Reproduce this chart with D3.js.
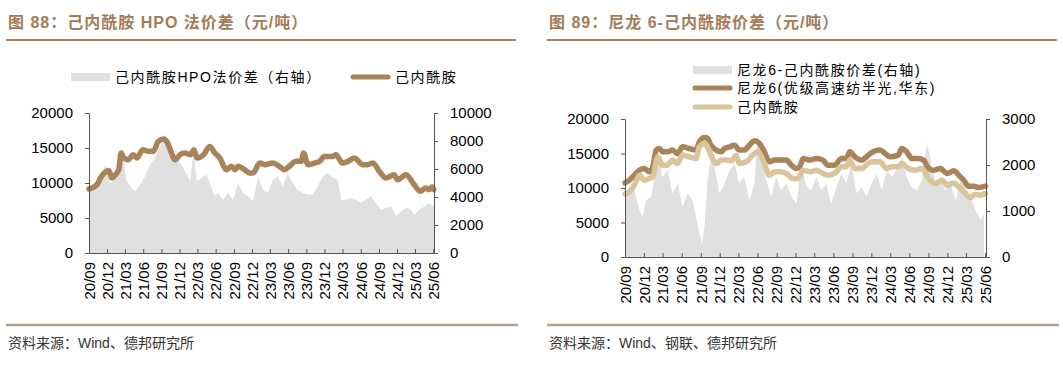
<!DOCTYPE html>
<html>
<head>
<meta charset="utf-8">
<script src="https://cdn.jsdelivr.net/npm/d3@7"></script>
<style>
  body { margin: 0; background: #fff; }
  svg { display: block; }
  text { font-family: "Liberation Sans", Arial, "Noto Sans CJK SC", sans-serif; }
</style>
</head>
<body>
<svg id="chart" width="1063" height="366"></svg>
<script>
// x tick labels (quarters)
var quarterTicks = ["2020-09-01","2020-12-01","2021-03-01","2021-06-01","2021-09-01","2021-12-01","2022-03-01","2022-06-01","2022-09-01","2022-12-01","2023-03-01","2023-06-01","2023-09-01","2023-12-01","2024-03-01","2024-06-01","2024-09-01","2024-12-01","2025-03-01","2025-06-01"]

var leftTicks = [0, 5000, 10000, 15000, 20000]
var rightTicks88 = [0, 2000, 4000, 6000, 8000, 10000]
var rightTicks89 = [0, 1000, 2000, 3000]

// fig 88: caprolactam price (left) and HPO spread (right)
var capro88 = [
  ["2020-09-01",9140],["2020-10-12",9760],["2020-10-28",10700],["2020-11-28",11660],["2020-12-10",11800],
  ["2020-12-26",10700],["2021-01-12",11190],["2021-01-29",11900],["2021-02-10",14280],["2021-02-23",13570],
  ["2021-03-18",13330],["2021-04-12",14040],["2021-04-30",13570],["2021-05-30",14760],["2021-06-27",14520],
  ["2021-07-22",14520],["2021-08-16",15950],["2021-09-12",16280],["2021-09-28",15950],["2021-10-15",14760],
  ["2021-11-09",13330],["2021-12-03",14040],["2021-12-28",14280],["2022-01-24",14040],["2022-02-12",14760],
  ["2022-02-27",13570],["2022-04-01",14040],["2022-05-02",15230],["2022-05-28",14280],["2022-06-22",13570],
  ["2022-07-25",11900],["2022-08-19",12380],["2022-09-06",11900],["2022-09-22",12380],["2022-10-25",11900],
  ["2022-11-19",11420],["2022-12-06",11420],["2023-01-09",12850],["2023-02-04",12620],["2023-03-16",12850],
  ["2023-04-18",12380],["2023-05-13",11900],["2023-06-07",12380],["2023-07-10",13090],["2023-08-06",13090],
  ["2023-08-18",14280],["2023-09-09",12620],["2023-10-12",12850],["2023-11-06",13090],["2023-12-01",13800],
  ["2024-01-12",13800],["2024-01-28",14040],["2024-03-01",12850],["2024-03-28",13090],["2024-05-01",13570],
  ["2024-06-10",12620],["2024-07-06",12620],["2024-08-01",12850],["2024-09-03",11660],["2024-10-06",10700],
  ["2024-11-16",11190],["2024-12-03",10470],["2025-01-15",11190],["2025-02-25",9760],["2025-03-28",8810],
  ["2025-04-24",9280],["2025-05-10",9040],["2025-05-27",9420],["2025-06-04",9040]
]

var hpoSpread = [
  ["2020-09-01",4520],["2020-09-26",5000],["2020-10-29",5590],["2020-11-23",6300],["2020-12-18",5000],
  ["2021-01-12",5240],["2021-02-07",6550],["2021-02-20",6780],["2021-03-10",5120],["2021-04-04",4640],
  ["2021-04-21",4400],["2021-05-16",4880],["2021-06-10",5470],["2021-07-05",6300],["2021-07-31",6780],
  ["2021-08-25",7620],["2021-09-11",8090],["2021-09-28",7850],["2021-10-23",7500],["2021-11-17",6780],
  ["2021-12-12",6300],["2021-12-29",5830],["2022-01-24",5120],["2022-02-10",7380],["2022-02-26",5120],
  ["2022-03-21",5360],["2022-04-16",5590],["2022-05-02",5000],["2022-05-27",4050],["2022-06-13",4280],
  ["2022-07-08",3810],["2022-08-03",4280],["2022-08-28",3810],["2022-09-22",5000],["2022-10-17",4280],
  ["2022-11-11",4050],["2022-12-07",3690],["2023-01-01",5470],["2023-01-26",4520],["2023-02-20",4280],
  ["2023-03-16",5240],["2023-04-10",5470],["2023-05-05",4760],["2023-05-30",5710],["2023-06-24",5000],
  ["2023-07-19",4520],["2023-08-14",4280],["2023-09-08",4170],["2023-10-03",4170],["2023-10-28",4760],
  ["2023-11-23",5470],["2023-12-18",5710],["2024-01-12",5360],["2024-02-07",5240],["2024-02-23",3810],
  ["2024-03-18",3810],["2024-04-13",3930],["2024-05-08",3810],["2024-06-02",3570],["2024-06-27",3810],
  ["2024-07-22",4050],["2024-08-17",3570],["2024-09-11",3090],["2024-10-06",3210],["2024-11-01",3330],
  ["2024-11-26",2620],["2024-12-21",2980],["2025-01-15",3210],["2025-02-09",3090],["2025-02-26",2740],
  ["2025-03-23",3090],["2025-04-16",3330],["2025-05-11",3570],["2025-06-05",3330]
]

// fig 89: nylon 6 price, caprolactam price (left) and spread (right)
var nylon6 = [
  ["2020-09-01",10740],["2020-09-22",11130],["2020-10-16",11860],["2020-11-09",12580],["2020-12-03",12830],
  ["2020-12-27",12340],["2021-01-13",13070],["2021-01-29",15490],["2021-02-14",15730],["2021-03-01",15250],
  ["2021-03-24",15250],["2021-04-18",15490],["2021-05-12",15000],["2021-06-05",15970],["2021-07-07",15730],
  ["2021-08-09",15490],["2021-08-25",16700],["2021-09-18",17330],["2021-10-04",17180],["2021-10-20",16210],
  ["2021-11-14",15490],["2021-12-08",15250],["2021-12-24",15730],["2022-01-18",15970],["2022-02-11",16210],
  ["2022-03-05",15490],["2022-03-29",15490],["2022-04-23",16210],["2022-05-17",16840],["2022-06-10",16460],
  ["2022-07-04",15250],["2022-07-28",13790],["2022-08-22",14040],["2022-09-16",14040],["2022-10-18",14040],
  ["2022-11-11",13310],["2022-12-05",12830],["2022-12-21",13070],["2023-01-07",14280],["2023-02-09",14040],
  ["2023-03-11",14280],["2023-04-12",14040],["2023-05-06",13310],["2023-06-07",13310],["2023-07-10",14280],
  ["2023-08-03",14280],["2023-08-19",15250],["2023-09-13",14520],["2023-10-15",14040],["2023-11-16",14760],
  ["2023-12-10",15250],["2024-01-12",15490],["2024-02-05",15000],["2024-02-29",14520],["2024-04-09",14760],
  ["2024-04-25",15730],["2024-05-19",15250],["2024-06-12",14280],["2024-07-15",14280],["2024-08-08",14040],
  ["2024-09-02",12830],["2024-09-26",12580],["2024-10-28",12830],["2024-11-30",12100],["2025-01-01",12490],
  ["2025-01-25",11860],["2025-02-18",11130],["2025-03-13",10260],["2025-04-06",10260],["2025-04-30",10070],
  ["2025-06-02",10260]
]

var capro89 = [
  ["2020-09-01",9100],["2020-09-22",9440],["2020-10-16",10410],["2020-11-09",11860],["2020-12-03",11130],
  ["2020-12-27",11370],["2021-01-13",11620],["2021-02-06",14520],["2021-03-01",13310],["2021-03-24",13310],
  ["2021-04-18",14040],["2021-05-12",13550],["2021-06-05",14760],["2021-07-07",14520],["2021-08-09",14280],
  ["2021-08-25",15970],["2021-09-18",16460],["2021-10-04",15970],["2021-10-20",14760],["2021-11-14",13550],
  ["2021-12-08",14040],["2022-01-01",14040],["2022-01-26",13940],["2022-02-19",14760],["2022-03-05",13550],
  ["2022-04-07",13790],["2022-05-09",14760],["2022-06-02",15250],["2022-07-04",13550],["2022-07-28",11860],
  ["2022-08-22",12340],["2022-09-16",12340],["2022-10-18",12100],["2022-11-19",11370],["2022-12-13",11370],
  ["2023-01-07",12580],["2023-02-09",12340],["2023-03-11",12580],["2023-04-12",12100],["2023-05-06",11860],
  ["2023-06-07",12100],["2023-07-10",13070],["2023-08-03",13070],["2023-08-19",14040],["2023-09-13",12830],
  ["2023-10-15",12830],["2023-11-16",13550],["2023-12-10",13790],["2024-01-12",13790],["2024-02-13",12830],
  ["2024-03-08",13070],["2024-04-09",13070],["2024-04-25",13550],["2024-05-27",12830],["2024-06-28",12580],
  ["2024-07-31",12830],["2024-09-02",11370],["2024-10-04",10650],["2024-11-05",11130],["2024-11-30",10410],
  ["2025-01-01",10740],["2025-01-25",10160],["2025-02-26",9200],["2025-03-22",8620],["2025-04-15",9100],
  ["2025-05-10",8950],["2025-06-02",9200]
]

var nylonSpread = [
  ["2020-09-01",1490],["2020-09-22",1380],["2020-10-16",1450],["2020-11-09",1020],["2020-11-25",870],
  ["2020-12-11",1230],["2021-01-05",1310],["2021-01-29",1960],["2021-02-14",2140],["2021-03-01",1740],
  ["2021-03-24",1890],["2021-04-18",1380],["2021-05-12",1600],["2021-06-05",1090],["2021-06-30",1380],
  ["2021-07-24",1230],["2021-08-09",870],["2021-08-25",510],["2021-09-07",290],["2021-09-18",650],
  ["2021-10-04",1670],["2021-10-20",2180],["2021-11-06",1960],["2021-11-30",1380],["2021-12-24",1600],
  ["2022-01-18",1890],["2022-02-11",2030],["2022-03-05",1600],["2022-03-29",1740],["2022-04-23",1230],
  ["2022-05-17",1600],["2022-06-02",2720],["2022-06-19",2110],["2022-07-13",1670],["2022-08-06",1310],
  ["2022-08-31",1740],["2022-09-23",1450],["2022-10-18",1600],["2022-11-11",1310],["2022-12-05",1160],
  ["2022-12-29",1960],["2023-01-23",1520],["2023-02-16",1450],["2023-03-11",1740],["2023-04-04",1450],
  ["2023-04-28",1600],["2023-05-22",1160],["2023-06-16",1520],["2023-07-10",1820],["2023-08-03",1600],
  ["2023-08-27",2030],["2023-09-21",1380],["2023-10-15",1520],["2023-11-08",1310],["2023-12-02",1600],
  ["2023-12-27",1820],["2024-01-20",1450],["2024-02-13",1890],["2024-03-08",1740],["2024-04-01",1890],
  ["2024-04-25",2180],["2024-05-19",1740],["2024-06-12",1520],["2024-07-07",1450],["2024-07-31",1670],
  ["2024-08-24",2470],["2024-09-12",2110],["2024-10-04",1600],["2024-10-28",1670],["2024-11-21",1450],
  ["2024-12-16",1600],["2025-01-09",1230],["2025-02-02",1670],["2025-02-26",1520],["2025-03-22",1310],
  ["2025-04-15",1020],["2025-05-10",800],["2025-05-26",940]
]

var brown = "#a9845b"
var tan = "#d9c49b"
var grayFill = "#e0e0e0"
var titleColor = "#a27c58"

var parseDate = d3.timeParse("%Y-%m-%d")
var fmtTick = d3.timeFormat("%y/%m")
var ticks = quarterTicks.map(parseDate)

var svg = d3.select("#chart")

function drawChart(cfg) {
    var xScale = d3.scaleTime()
                   .domain([parseDate("2020-09-01"), parseDate("2025-06-05")])
                   .range([cfg.left, cfg.right])

    var yLeft = d3.scaleLinear()
                  .domain([0, 20000])
                  .range([cfg.bottom, cfg.top])

    var yRight = d3.scaleLinear()
                   .domain([0, cfg.rightMax])
                   .range([cfg.bottom, cfg.top])

    var g = svg.append("g")

    // spread, filled area on right axis
    var area = d3.area()
                 .x(d => xScale(parseDate(d[0])))
                 .y0(yRight(0))
                 .y1(d => yRight(d[1]))
    g.append("path")
     .datum(cfg.spread)
     .attr("d", area)
     .attr("fill", grayFill)

    var line = d3.line()
                 .x(d => xScale(parseDate(d[0])))
                 .y(d => yLeft(d[1]))
                 .curve(d3.curveMonotoneX)

    cfg.lines.forEach(function(s) {
        g.append("path")
         .datum(s.data)
         .attr("d", line)
         .attr("fill", "none")
         .attr("stroke", s.color)
         .attr("stroke-width", 5.5)
         .attr("stroke-linejoin", "round")
         .attr("stroke-linecap", "round")
    })

    var leftAxis = g.append("g")
                    .attr("transform", `translate(${cfg.left},0)`)
                    .call(d3.axisLeft(yLeft).tickValues(leftTicks).tickSize(4).tickSizeOuter(0).tickFormat(d3.format("d")))
    var rightAxis = g.append("g")
                     .attr("transform", `translate(${cfg.right},0)`)
                     .call(d3.axisRight(yRight).tickValues(cfg.rightTicks).tickSize(4).tickSizeOuter(0).tickFormat(d3.format("d")))
    var xAxis = g.append("g")
                 .attr("transform", `translate(0,${cfg.bottom})`)
                 .call(d3.axisBottom(xScale).tickValues(ticks).tickSize(-4).tickSizeOuter(0).tickFormat(fmtTick))

    ;[leftAxis, rightAxis, xAxis].forEach(function(a) {
        a.selectAll("path, line").attr("stroke", "#555")
        a.selectAll("text")
         .attr("fill", "#000")
         .attr("font-size", "15px")
         .attr("font-family", "Liberation Sans, Arial, sans-serif")
    })
    leftAxis.selectAll("text").attr("x", -16)
    rightAxis.selectAll("text").attr("x", 16)

    xAxis.selectAll("text")
         .attr("transform", "rotate(-90)")
         .attr("text-anchor", "end")
         .attr("x", -9)
         .attr("y", 0)
         .attr("dy", "0.35em")

    // title and rules
    svg.append("text")
       .attr("x", cfg.x0 + 2)
       .attr("y", 28)
       .attr("fill", titleColor)
       .attr("font-size", "16px")
       .attr("font-weight", "bold")
       .attr("letter-spacing", "1px")
       .text(cfg.title)
    svg.append("line")
       .attr("x1", cfg.x0).attr("x2", cfg.x0 + 510)
       .attr("y1", 40).attr("y2", 40)
       .attr("stroke", "#a9845b").attr("stroke-width", 2)
    svg.append("line")
       .attr("x1", cfg.x0).attr("x2", cfg.x0 + 512)
       .attr("y1", 325).attr("y2", 325)
       .attr("stroke", "#b5a08c").attr("stroke-width", 2.5)
    svg.append("text")
       .attr("x", cfg.x0 + 2)
       .attr("y", 348)
       .attr("fill", "#333")
       .attr("font-size", "14px")
       .attr("font-family", "Noto Sans CJK SC")
       .text(cfg.source)

    // legend
    cfg.legend.forEach(function(l) {
        if (l.type == "area") {
            svg.append("rect")
               .attr("x", l.x).attr("y", l.y - 4)
               .attr("width", 39).attr("height", 8)
               .attr("fill", grayFill)
        } else {
            svg.append("line")
               .attr("x1", l.x + 2).attr("x2", l.x + 37)
               .attr("y1", l.y).attr("y2", l.y)
               .attr("stroke", l.color).attr("stroke-width", 5)
               .attr("stroke-linecap", "round")
        }
        svg.append("text")
           .attr("x", l.x + 44)
           .attr("y", l.y)
           .attr("dy", "0.36em")
           .attr("font-size", "14px")
           .attr("letter-spacing", "1.6px")
           .attr("fill", "#000")
           .text(l.label)
    })
}

drawChart({
    x0: 6, left: 89, right: 434, top: 113, bottom: 253,
    rightMax: 10000, rightTicks: rightTicks88,
    title: "图 88：己内酰胺 HPO 法价差（元/吨）",
    source: "资料来源：Wind、德邦研究所",
    spread: hpoSpread,
    lines: [{data: capro88, color: brown}],
    legend: [
        {type: "area", x: 71, y: 77, label: "己内酰胺HPO法价差（右轴）"},
        {type: "line", x: 351, y: 77, color: brown, label: "己内酰胺"}
    ]
})

drawChart({
    x0: 547, left: 625, right: 986, top: 119, bottom: 257,
    rightMax: 3000, rightTicks: rightTicks89,
    title: "图 89：尼龙 6-己内酰胺价差（元/吨）",
    source: "资料来源：Wind、钢联、德邦研究所",
    spread: nylonSpread,
    lines: [{data: nylon6, color: brown}, {data: capro89, color: tan}],
    legend: [
        {type: "area", x: 693, y: 70, label: "尼龙6-己内酰胺价差(右轴)"},
        {type: "line", x: 693, y: 88, color: brown, label: "尼龙6(优级高速纺半光,华东)"},
        {type: "line", x: 693, y: 107, color: tan, label: "己内酰胺"}
    ]
})
</script>
</body>
</html>
